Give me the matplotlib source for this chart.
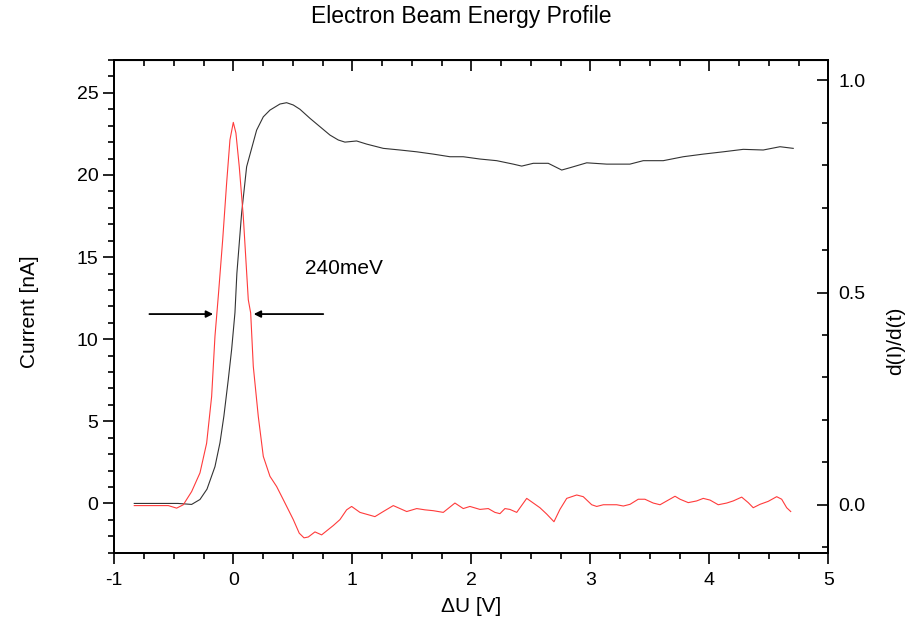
import matplotlib
matplotlib.use('Agg')
import matplotlib.pyplot as plt
from matplotlib.ticker import MultipleLocator, FormatStrFormatter

plt.rcParams['font.family'] = ['Liberation Sans', 'DejaVu Sans']
plt.rcParams['axes.unicode_minus'] = False

# measured current (left axis)
u_cur = [-0.832, -0.465, -0.350, -0.280, -0.221, -0.154, -0.112, -0.079, -0.042, -0.014,
         0.014, 0.030, 0.070, 0.112, 0.196, 0.252, 0.308, 0.392, 0.448, 0.504,
         0.560, 0.644, 0.728, 0.812, 0.882, 0.938, 1.036, 1.120, 1.260, 1.400,
         1.541, 1.680, 1.820, 1.932, 2.072, 2.213, 2.352, 2.423, 2.520, 2.646,
         2.759, 2.828, 2.969, 3.137, 3.332, 3.444, 3.612, 3.780, 3.948, 4.116,
         4.284, 4.452, 4.593, 4.704]
current = [0.00, 0.00, -0.06, 0.24, 0.87, 2.24, 3.69, 5.32, 7.55, 9.37,
           11.62, 14.0, 17.68, 20.50, 22.73, 23.54, 23.95, 24.32, 24.40, 24.26,
           24.00, 23.45, 22.94, 22.43, 22.13, 22.00, 22.07, 21.88, 21.62, 21.52,
           21.41, 21.27, 21.11, 21.11, 20.97, 20.87, 20.66, 20.54, 20.71, 20.71,
           20.30, 20.44, 20.74, 20.66, 20.66, 20.87, 20.87, 21.11, 21.27, 21.41,
           21.56, 21.52, 21.72, 21.62]

# derivative (right axis)
u_der = [-0.832, -0.546, -0.476, -0.420, -0.350, -0.280, -0.224, -0.182, -0.154, -0.125,
         -0.089, -0.056, -0.028, 0.000, 0.022, 0.050, 0.084, 0.126, 0.146, 0.168,
         0.210, 0.252, 0.308, 0.364, 0.420, 0.504, 0.554, 0.594, 0.630, 0.686,
         0.742, 0.840, 0.896, 0.952, 0.994, 1.064, 1.190, 1.260, 1.344, 1.457,
         1.541, 1.610, 1.680, 1.764, 1.862, 1.932, 1.988, 2.072, 2.142, 2.198,
         2.240, 2.282, 2.324, 2.381, 2.465, 2.576, 2.633, 2.694, 2.744, 2.801,
         2.885, 2.940, 3.011, 3.053, 3.109, 3.221, 3.277, 3.333, 3.402, 3.458,
         3.528, 3.585, 3.711, 3.753, 3.822, 3.893, 3.948, 4.005, 4.074, 4.145,
         4.200, 4.271, 4.326, 4.368, 4.425, 4.494, 4.565, 4.607, 4.649, 4.683]
deriv = [-0.002, -0.002, -0.008, 0.000, 0.031, 0.075, 0.145, 0.255, 0.397, 0.495,
         0.625, 0.758, 0.860, 0.901, 0.876, 0.797, 0.679, 0.483, 0.452, 0.326,
         0.208, 0.114, 0.067, 0.043, 0.012, -0.035, -0.067, -0.078, -0.076, -0.064,
         -0.071, -0.049, -0.035, -0.012, -0.004, -0.018, -0.028, -0.016, -0.002, -0.016,
         -0.009, -0.012, -0.014, -0.018, 0.004, -0.009, -0.004, -0.011, -0.009, -0.018,
         -0.021, -0.009, -0.011, -0.018, 0.015, -0.007, -0.022, -0.040, -0.011, 0.015,
         0.023, 0.019, 0.000, -0.004, 0.000, 0.000, -0.003, 0.001, 0.013, 0.013,
         0.004, 0.000, 0.020, 0.013, 0.005, 0.009, 0.015, 0.011, 0.000, 0.004,
         0.009, 0.018, 0.005, -0.007, 0.001, 0.008, 0.019, 0.013, -0.007, -0.016]

fig = plt.figure(figsize=(9.09, 6.27), dpi=100)
ax = fig.add_axes([0.1257, 0.1185, 0.7857, 0.7858])
ax2 = ax.twinx()

ax.plot(u_cur, current, color='#333333', lw=0.8)
ax2.plot(u_der, deriv, color='#ff3b3b', lw=0.8)

ax.set_xlim(-1, 5)
ax.set_ylim(-3, 27)
ax2.set_ylim(-0.113, 1.048)

ax.xaxis.set_major_locator(MultipleLocator(1))
ax.xaxis.set_minor_locator(MultipleLocator(0.25))
ax.yaxis.set_major_locator(MultipleLocator(5))
ax.yaxis.set_minor_locator(MultipleLocator(1))
ax2.yaxis.set_major_locator(MultipleLocator(0.5))
ax2.yaxis.set_minor_locator(MultipleLocator(0.1))
ax2.yaxis.set_major_formatter(FormatStrFormatter('%.1f'))

ax.tick_params(axis='both', which='major', direction='out', length=8, width=1.2, labelsize=14)
ax.tick_params(axis='both', which='minor', direction='out', length=4.5, width=1.2)
ax.tick_params(axis='x', which='major', pad=6)
ax.tick_params(axis='y', right=False)
ax2.tick_params(axis='y', which='major', direction='in', length=8, width=1.2, labelsize=14, pad=7)
ax2.tick_params(axis='y', which='minor', direction='in', length=4.5, width=1.2)

top = ax.secondary_xaxis('top')
top.xaxis.set_major_locator(MultipleLocator(1))
top.xaxis.set_minor_locator(MultipleLocator(0.25))
top.tick_params(which='major', direction='in', length=8, width=1.2, labeltop=False)
top.tick_params(which='minor', direction='in', length=4.5, width=1.2)

for a in (ax, ax2):
    for s in a.spines.values():
        s.set_linewidth(1.3)

ax.set_xlabel('\u0394U [V]', fontsize=15, va='center')
ax.xaxis.set_label_coords(0.5, -0.11)
ax.set_ylabel('Current [nA]', fontsize=15, va='center')
ax.yaxis.set_label_coords(-0.118, 0.49)
ax2.set_ylabel('d(I)/d(t)', fontsize=15, va='center', rotation=90)
ax2.yaxis.set_label_coords(1.0945, 0.43)

fig.text(0.507, 0.973, 'Electron Beam Energy Profile', fontsize=16.5, ha='center', va='center')

ax.text(0.60, 14.33, '240meV', fontsize=15, ha='left', va='center')
ax.annotate('', xy=(-0.146, 11.53), xytext=(-0.728, 11.53),
            arrowprops=dict(arrowstyle='-|>', color='black', lw=1.3, mutation_scale=10))
ax.annotate('', xy=(0.148, 11.53), xytext=(0.779, 11.53),
            arrowprops=dict(arrowstyle='-|>', color='black', lw=1.3, mutation_scale=10))

fig.savefig('out.png', dpi=100)
